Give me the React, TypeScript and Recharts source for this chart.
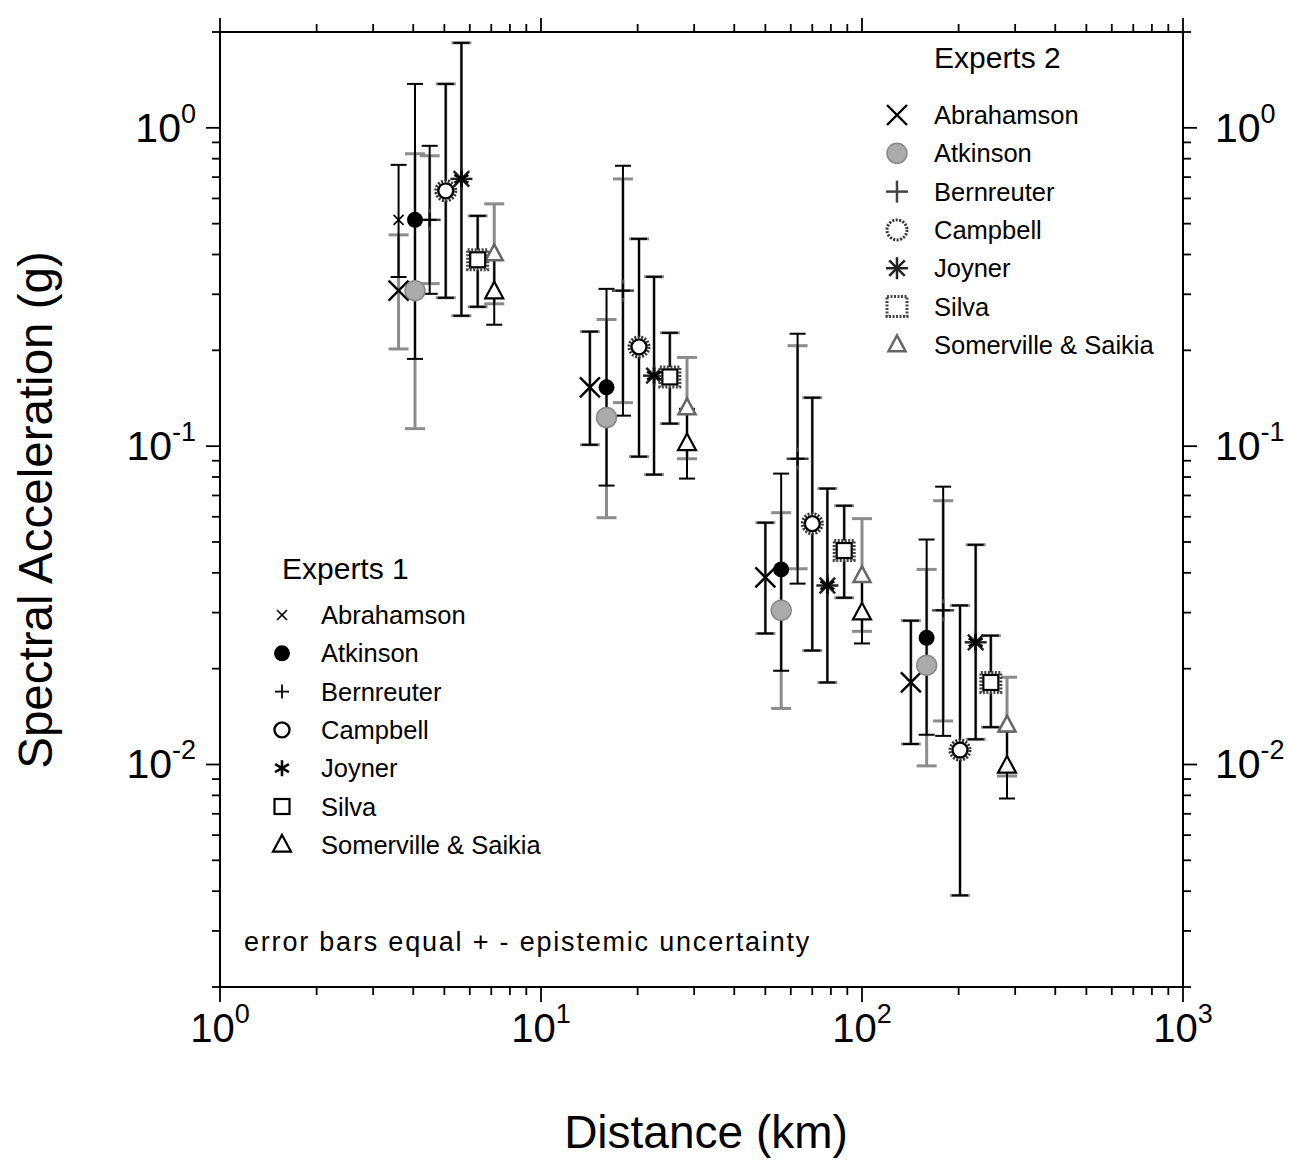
import React from 'react';
import { ScatterChart, Scatter, XAxis, YAxis, ErrorBar } from 'recharts';

const FONT = '"Liberation Sans", Arial, Helvetica, sans-serif';

const EXPERTS = ['Abrahamson', 'Atkinson', 'Bernreuter', 'Campbell', 'Joyner', 'Silva', 'Somerville & Saikia'];

// distance (km) of each expert's point, one column per distance group
const DISTANCE = [
  [3.6, 14.2, 50, 142],
  [4.05, 16, 56, 159],
  [4.5, 18, 63, 179],
  [5.05, 20.2, 70, 202],
  [5.65, 22.5, 78, 226],
  [6.35, 25.2, 88, 252],
  [7.15, 28.5, 100, 283],
];

// Experts 1: median, lower and upper epistemic bound (g)
const E1_MEDIAN = [
  [0.514, 0.153, 0.0387, 0.0181],
  [0.514, 0.153, 0.041, 0.025],
  [0.514, 0.308, 0.0913, 0.0305],
  [0.634, 0.205, 0.0571, 0.0111],
  [0.691, 0.1665, 0.0365, 0.0242],
  [0.385, 0.165, 0.047, 0.0181],
  [0.306, 0.102, 0.03, 0.0099],
];
const E1_LOW = [
  [0.34, 0.101, 0.0258, 0.0116],
  [0.188, 0.0752, 0.0197, 0.0124],
  [0.301, 0.1247, 0.037, 0.0123],
  [0.2925, 0.0927, 0.0228, 0.00388],
  [0.2568, 0.0814, 0.0181, 0.012],
  [0.274, 0.1177, 0.0334, 0.0131],
  [0.2407, 0.0791, 0.024, 0.00782],
];
const E1_HIGH = [
  [0.765, 0.229, 0.0575, 0.0283],
  [1.374, 0.312, 0.082, 0.0509],
  [0.878, 0.76, 0.2255, 0.0746],
  [1.374, 0.448, 0.142, 0.0316],
  [1.849, 0.3405, 0.0736, 0.049],
  [0.529, 0.227, 0.065, 0.0254],
  [0.388, 0.131, 0.0376, 0.0127],
];

// Experts 2
const E2_MEDIAN = [
  [0.308, 0.153, 0.0387, 0.0181],
  [0.308, 0.123, 0.0305, 0.0205],
  [0.514, 0.308, 0.0913, 0.0305],
  [0.634, 0.205, 0.0571, 0.0111],
  [0.691, 0.1665, 0.0365, 0.0242],
  [0.385, 0.165, 0.047, 0.0181],
  [0.402, 0.132, 0.0392, 0.0133],
];
const E2_LOW = [
  [0.202, 0.101, 0.0258, 0.0116],
  [0.1135, 0.0596, 0.015, 0.0099],
  [0.324, 0.137, 0.0412, 0.0137],
  [0.2925, 0.0927, 0.0228, 0.00388],
  [0.2568, 0.0814, 0.0181, 0.012],
  [0.274, 0.1177, 0.0334, 0.0131],
  [0.28, 0.0913, 0.0262, 0.0092],
];
const E2_HIGH = [
  [0.461, 0.229, 0.0575, 0.0283],
  [0.829, 0.25, 0.0618, 0.041],
  [0.817, 0.691, 0.2068, 0.0674],
  [1.374, 0.448, 0.142, 0.0316],
  [1.849, 0.3405, 0.0736, 0.049],
  [0.529, 0.227, 0.065, 0.0254],
  [0.577, 0.19, 0.0592, 0.0188],
];

const X_DECADES = [1, 10, 100];
const Y_DECADES = [0.001, 0.01, 0.1, 1];
const STEPS = [1, 2, 3, 4, 5, 6, 7, 8, 9];
const X_DOMAIN = [1, 1000];
const Y_DOMAIN = [0.002, 2];

const X_TICKS = [...X_DECADES.flatMap(d => STEPS.map(s => Number((d * s).toPrecision(3)))), 1000];
const Y_TICKS = Y_DECADES.flatMap(d => STEPS.map(s => Number((d * s).toPrecision(3))))
  .filter(v => v >= Y_DOMAIN[0] && v <= Y_DOMAIN[1]);

const isMajor = (v: number) => Math.abs(Math.log10(v) - Math.round(Math.log10(v))) < 1e-6;
const expOf = (v: number) => Math.round(Math.log10(v));

const buildSeries = (med: number[][], low: number[][], high: number[][], i: number) =>
  DISTANCE[i].map((d, g) => ({
    d,
    sa: med[i][g],
    err: [med[i][g] - low[i][g], high[i][g] - med[i][g]],
  }));

const AXIS_LINE = { stroke: '#000', strokeWidth: 2 };

const BottomTick = ({ x, y, payload }: any) => {
  const major = isMajor(payload.value);
  return (
    <g>
      <line x1={x} y1={y} x2={x} y2={y + (major ? 15 : 8)} stroke="#000" strokeWidth={1.8} />
      {major && (
        <text x={x} y={y + 55} textAnchor="middle" fontFamily={FONT} fontSize={40} fill="#000">
          10<tspan dy={-19} fontSize={27}>{expOf(payload.value)}</tspan>
        </text>
      )}
    </g>
  );
};

const TopTick = ({ x, y, payload }: any) => {
  const major = isMajor(payload.value);
  return <line x1={x} y1={y} x2={x} y2={y - (major ? 14 : 8)} stroke="#000" strokeWidth={1.8} />;
};

const LeftTick = ({ x, y, payload }: any) => {
  const major = isMajor(payload.value);
  return (
    <g>
      <line x1={x} y1={y} x2={x - (major ? 14 : 8)} y2={y} stroke="#000" strokeWidth={1.8} />
      {major && (
        <text x={x - 24} y={y + 14} textAnchor="end" fontFamily={FONT} fontSize={41} fill="#000">
          10<tspan dy={-19} fontSize={27}>{expOf(payload.value)}</tspan>
        </text>
      )}
    </g>
  );
};

const RightTick = ({ x, y, payload }: any) => {
  const major = isMajor(payload.value);
  return (
    <g>
      <line x1={x} y1={y} x2={x + (major ? 14 : 8)} y2={y} stroke="#000" strokeWidth={1.8} />
      {major && (
        <text x={x + 32} y={y + 14} textAnchor="start" fontFamily={FONT} fontSize={41} fill="#000">
          10<tspan dy={-19} fontSize={27}>{expOf(payload.value)}</tspan>
        </text>
      )}
    </g>
  );
};

const STIPPLE = '#8c8c8c';

const Glyph = ({ kind, panel, cx, cy }: { kind: number; panel: number; cx?: number; cy?: number }) => {
  if (cx == null || cy == null) return null;
  const e2 = panel === 2;
  switch (kind) {
    case 0: {
      const h = e2 ? 10 : 5;
      return (
        <g stroke="#000" strokeWidth={e2 ? 2.4 : 1.6}>
          <line x1={cx - h} y1={cy - h} x2={cx + h} y2={cy + h} />
          <line x1={cx - h} y1={cy + h} x2={cx + h} y2={cy - h} />
        </g>
      );
    }
    case 1:
      return e2
        ? <circle cx={cx} cy={cy} r={10} fill="#ababab" stroke="#888" strokeWidth={1.5} />
        : <circle cx={cx} cy={cy} r={8} fill="#000" />;
    case 2: {
      const h = e2 ? 11 : 7;
      return (
        <g stroke={e2 ? '#444' : '#000'} strokeWidth={e2 ? 2.5 : 1.8}>
          <line x1={cx - h} y1={cy} x2={cx + h} y2={cy} />
          <line x1={cx} y1={cy - h} x2={cx} y2={cy + h} />
        </g>
      );
    }
    case 3:
      return e2
        ? <circle cx={cx} cy={cy} r={10} fill="#fff" stroke="#333" strokeWidth={3} strokeDasharray="2 1.5" />
        : <circle cx={cx} cy={cy} r={7.5} fill="#fff" stroke="#000" strokeWidth={2.4} />;
    case 4: {
      const h = e2 ? 11 : 8;
      const angles = e2 ? [0, 45, 90, 135] : [90, 30, 150];
      return (
        <g stroke={e2 ? '#222' : '#000'} strokeWidth={e2 ? 2.5 : 2.6}>
          {angles.map(a => {
            const dx = h * Math.cos((a * Math.PI) / 180);
            const dy = h * Math.sin((a * Math.PI) / 180);
            return <line key={a} x1={cx - dx} y1={cy - dy} x2={cx + dx} y2={cy + dy} />;
          })}
        </g>
      );
    }
    case 5: {
      const h = e2 ? 10 : 7.5;
      return (
        <rect x={cx - h} y={cy - h} width={2 * h} height={2 * h} fill="#fff"
          stroke={e2 ? '#444' : '#000'} strokeWidth={e2 ? 3 : 2.2} strokeDasharray={e2 ? '2 1.5' : undefined} />
      );
    }
    default: {
      const h = e2 ? 8.5 : 9;
      return (
        <polygon points={`${cx},${cy - h * 1.1} ${cx + h},${cy + h * 0.75} ${cx - h},${cy + h * 0.75}`}
          fill="#fff" stroke={e2 ? '#666' : '#000'} strokeWidth={e2 ? 2.5 : 2.2} />
      );
    }
  }
};

const ROW_GAP = 38.3;

const LegendPanel = ({ title, titleX, titleY, symX, textX, firstY, panel }: any) => (
  <g>
    <text x={titleX} y={titleY} fontFamily={FONT} fontSize={30} fill="#000">{title}</text>
    {EXPERTS.map((name, i) => {
      const cy = firstY + i * ROW_GAP;
      return (
        <g key={name}>
          <Glyph kind={i} panel={panel} cx={symX} cy={cy} />
          <text x={textX} y={cy + 9} fontFamily={FONT} fontSize={25.5} fill="#000">{name}</text>
        </g>
      );
    })}
  </g>
);

export default function App() {
  return (
    <div style={{ position: 'absolute', left: 0, top: 0, width: 1289, height: 1160, background: '#fff' }}>
      <ScatterChart width={1289} height={1160} margin={{ top: 12, right: 6, bottom: 73, left: 120 }}>
        <XAxis xAxisId="bottom" orientation="bottom" dataKey="d" type="number" scale="log"
          domain={X_DOMAIN} allowDataOverflow ticks={X_TICKS} interval={0} height={100}
          tickSize={0} tickMargin={0} tickLine={false} axisLine={AXIS_LINE} tick={(p: any) => <BottomTick {...p} />} />
        <XAxis xAxisId="top" orientation="top" dataKey="d" type="number" scale="log"
          domain={X_DOMAIN} allowDataOverflow ticks={X_TICKS} interval={0} height={20}
          tickSize={0} tickMargin={0} tickLine={false} axisLine={AXIS_LINE} tick={(p: any) => <TopTick {...p} />} />
        <YAxis yAxisId="left" orientation="left" dataKey="sa" type="number" scale="log"
          domain={Y_DOMAIN} allowDataOverflow ticks={Y_TICKS} interval={0} width={100}
          tickSize={0} tickMargin={0} tickLine={false} axisLine={AXIS_LINE} tick={(p: any) => <LeftTick {...p} />} />
        <YAxis yAxisId="right" orientation="right" dataKey="sa" type="number" scale="log"
          domain={Y_DOMAIN} allowDataOverflow ticks={Y_TICKS} interval={0} width={100}
          tickSize={0} tickMargin={0} tickLine={false} axisLine={AXIS_LINE} tick={(p: any) => <RightTick {...p} />} />

        {EXPERTS.map((name, i) => (
          <Scatter key={`e2-${name}`} name={`Experts 2 ${name}`} xAxisId="bottom" yAxisId="left"
            data={buildSeries(E2_MEDIAN, E2_LOW, E2_HIGH, i)} dataKey="sa" isAnimationActive={false}
            shape={(p: any) => <Glyph kind={i} panel={2} cx={p.cx} cy={p.cy} />}>
            <ErrorBar dataKey="err" direction="y" width={10} stroke={STIPPLE} strokeWidth={3} isAnimationActive={false} />
          </Scatter>
        ))}
        {EXPERTS.map((name, i) => (
          <Scatter key={`e1-${name}`} name={`Experts 1 ${name}`} xAxisId="bottom" yAxisId="left"
            data={buildSeries(E1_MEDIAN, E1_LOW, E1_HIGH, i)} dataKey="sa" isAnimationActive={false}
            shape={(p: any) => <Glyph kind={i} panel={1} cx={p.cx} cy={p.cy} />}>
            <ErrorBar dataKey="err" direction="y" width={8} stroke="#000" strokeWidth={2} isAnimationActive={false} />
          </Scatter>
        ))}
      </ScatterChart>

      <svg width={1289} height={1160} style={{ position: 'absolute', left: 0, top: 0, pointerEvents: 'none' }}>
        <LegendPanel title="Experts 2" titleX={934} titleY={68} symX={897} textX={934} firstY={115} panel={2} />
        <LegendPanel title="Experts 1" titleX={282} titleY={579} symX={282} textX={321} firstY={615} panel={1} />
        <text x={244} y={951} fontFamily={FONT} fontSize={27} letterSpacing={1.8} fill="#000">
          error bars equal + - epistemic uncertainty
        </text>
        <text x={706} y={1148} textAnchor="middle" fontFamily={FONT} fontSize={46} fill="#000">
          Distance (km)
        </text>
        <text transform="translate(52,510) rotate(-90)" textAnchor="middle" fontFamily={FONT} fontSize={47.5} fill="#000">
          Spectral Acceleration (g)
        </text>
      </svg>
    </div>
  );
}
